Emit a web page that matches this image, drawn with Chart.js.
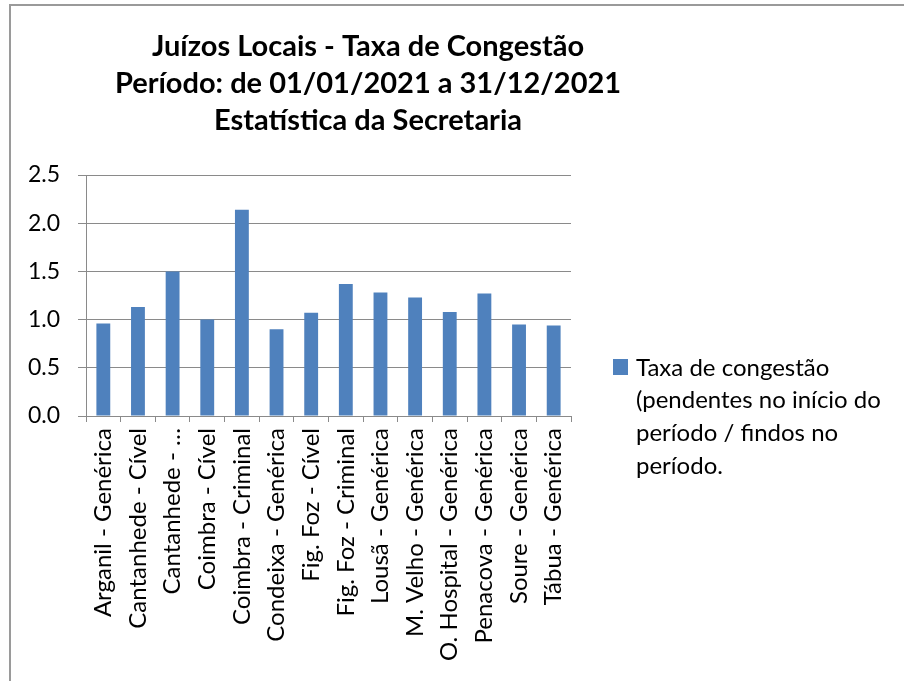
<!DOCTYPE html>
<html>
<head>
<meta charset="utf-8">
<script src="https://cdn.jsdelivr.net/npm/chart.js@4/dist/chart.umd.min.js"></script>
<style>
  html, body { margin: 0; padding: 0; background: #fff; }
  #wrap { position: relative; width: 904px; height: 681px; }
</style>
</head>
<body>
<div id="wrap"><canvas id="chart" width="904" height="681"></canvas></div>
<script>
"use strict";

// Data
const categories = [
    'Arganil - Genérica', 'Cantanhede - Cível', 'Cantanhede - …', 'Coimbra - Cível',
    'Coimbra - Criminal', 'Condeixa - Genérica', 'Fig. Foz - Cível', 'Fig. Foz - Criminal',
    'Lousã - Genérica', 'M. Velho - Genérica', 'O. Hospital - Genérica', 'Penacova - Genérica',
    'Soure - Genérica', 'Tábua - Genérica'
];
const congestionValues = [0.96, 1.13, 1.50, 1.00, 2.14, 0.90, 1.07, 1.37, 1.28, 1.23, 1.08, 1.27, 0.95, 0.94];
const yTicks = [0, 0.5, 1.0, 1.5, 2.0, 2.5];
const titleLines = ['Juízos Locais - Taxa de Congestão', 'Período: de 01/01/2021 a 31/12/2021', 'Estatística da Secretaria'];
const legendLines = ['Taxa de congestão', '(pendentes no início do', 'período / findos no', 'período.'];

const barColor = '#4F81BD';
const gridColor = '#8a8a8a';
const FONT = 'Lato, "Open Sans", sans-serif';

// Title, legend and frame drawn on top of the canvas
const decorPlugin = {
    id: 'decor',
    afterDraw(chart) {
        const ctx = chart.ctx;
        ctx.save();

        // frame (left + top edges only, like the cropped original)
        ctx.strokeStyle = '#9a9a9a';
        ctx.lineWidth = 2;
        ctx.beginPath();
        ctx.moveTo(10, 681);
        ctx.lineTo(10, 5);
        ctx.lineTo(904, 5);
        ctx.stroke();

        // title
        ctx.fillStyle = '#000';
        ctx.font = 'bold 29px ' + FONT;
        ctx.textAlign = 'center';
        ctx.textBaseline = 'middle';
        titleLines.forEach((t, i) => ctx.fillText(t, 368, 47 + i * 37));

        // legend
        ctx.fillStyle = barColor;
        ctx.fillRect(613, 359, 15, 16);
        ctx.fillStyle = '#000';
        ctx.font = '24px ' + FONT;
        ctx.textAlign = 'left';
        legendLines.forEach((t, i) => ctx.fillText(t, 636, 368 + i * 32.7));

        ctx.restore();
    }
};

const ctx = document.getElementById('chart').getContext('2d');
const chart = new Chart(ctx, {
    type: 'bar',
    data: {
        labels: categories,
        datasets: [{
            label: 'Taxa de congestão (pendentes no início do período / findos no período.',
            data: congestionValues,
            backgroundColor: barColor,
            borderWidth: 0,
            barPercentage: 0.4,
            categoryPercentage: 1.0
        }]
    },
    options: {
        responsive: false,
        animation: false,
        devicePixelRatio: 1,
        layout: { padding: { top: 175, right: 333, left: 0, bottom: 0 } },
        plugins: {
            legend: { display: false },
            title: { display: false },
            tooltip: { enabled: false }
        },
        scales: {
            x: {
                grid: {
                    offset: true,
                    drawOnChartArea: false,
                    color: gridColor,
                    tickLength: 6
                },
                border: { color: gridColor, width: 1 },
                ticks: {
                    autoSkip: false,
                    minRotation: 90,
                    maxRotation: 90,
                    padding: 6,
                    color: '#000',
                    font: { family: FONT, size: 24 }
                },
                afterFit(scale) { scale.height = 681 - 416; }
            },
            y: {
                min: 0,
                max: 2.5,
                afterBuildTicks(scale) { scale.ticks = yTicks.map(v => ({ value: v })); },
                grid: { color: gridColor, tickLength: 8 },
                border: { color: gridColor, width: 1 },
                ticks: {
                    padding: 18,
                    color: '#000',
                    font: { family: FONT, size: 23 },
                    callback: v => Number(v).toFixed(1)
                },
                afterFit(scale) { scale.width = 86; }
            }
        }
    },
    plugins: [decorPlugin]
});
</script>
</body>
</html>
